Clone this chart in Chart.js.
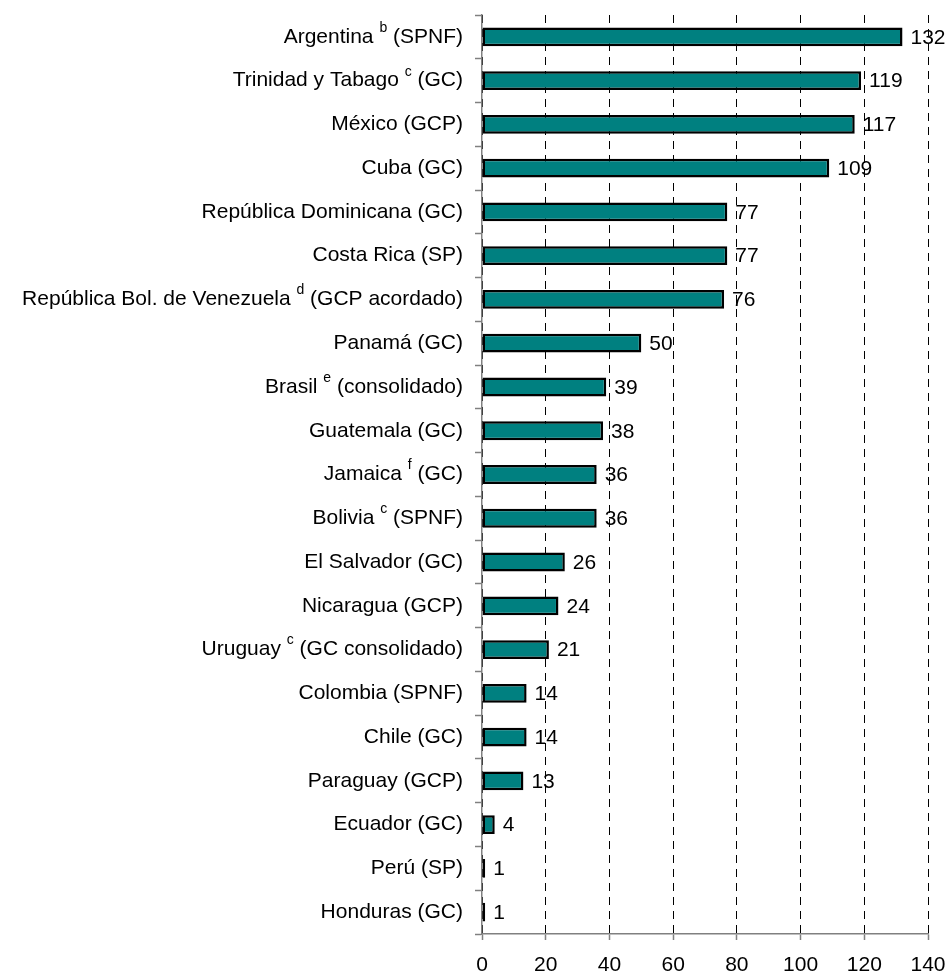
<!DOCTYPE html>
<html>
<head>
<meta charset="utf-8">
<script src="https://cdn.jsdelivr.net/npm/chart.js@4"></script>
<style>
  html, body { margin: 0; padding: 0; background: #fff; }
  #wrap { width: 948px; height: 973px; }
</style>
</head>
<body>
<div id="wrap"><canvas id="chart"></canvas></div>
<script>
// datos del gráfico
const countries = ['Argentina', 'Trinidad y Tabago', 'México', 'Cuba', 'República Dominicana', 'Costa Rica',
  'República Bol. de Venezuela', 'Panamá', 'Brasil', 'Guatemala', 'Jamaica', 'Bolivia', 'El Salvador',
  'Nicaragua', 'Uruguay', 'Colombia', 'Chile', 'Paraguay', 'Ecuador', 'Perú', 'Honduras'];
const notes = ['b', 'c', '', '', '', '', 'd', '', 'e', '', 'f', 'c', '', '', 'c', '', '', '', '', '', ''];
const coverage = ['(SPNF)', '(GC)', '(GCP)', '(GC)', '(GC)', '(SP)', '(GCP acordado)', '(GC)', '(consolidado)',
  '(GC)', '(GC)', '(SPNF)', '(GC)', '(GCP)', '(GC consolidado)', '(SPNF)', '(GC)', '(GCP)', '(GC)', '(SP)', '(GC)'];
const values = [132, 119, 117, 109, 77, 77, 76, 50, 39, 38, 36, 36, 26, 24, 21, 14, 14, 13, 4, 1, 1];
const xTicks = [0, 20, 40, 60, 80, 100, 120, 140];

const FONT = 'Liberation Sans, Arial, sans-serif';
const MAIN = '21px ' + FONT;
const SUP = '14px ' + FONT;

// etiquetas de categoría con superíndice
const sideLabels = {
  id: 'sideLabels',
  afterDraw(chart) {
    const ctx = chart.ctx;
    const y = chart.scales.y;
    ctx.save();
    ctx.fillStyle = '#000';
    ctx.textBaseline = 'middle';
    ctx.textAlign = 'right';
    countries.forEach((name, i) => {
      const py = y.getPixelForValue(i);
      let x = y.right - 19;
      ctx.font = MAIN;
      const space = ctx.measureText(' ').width;
      ctx.fillText(coverage[i], x, py);
      x -= ctx.measureText(coverage[i]).width + space;
      if (notes[i]) {
        ctx.font = SUP;
        ctx.fillText(notes[i], x, py - 9);
        x -= ctx.measureText(notes[i]).width + space;
        ctx.font = MAIN;
      }
      ctx.fillText(name, x, py);
    });
    ctx.restore();
  }
};

// valores al final de cada barra
const valueLabels = {
  id: 'valueLabels',
  afterDatasetsDraw(chart) {
    const ctx = chart.ctx;
    const meta = chart.getDatasetMeta(0);
    ctx.save();
    ctx.font = MAIN;
    ctx.fillStyle = '#000';
    ctx.textAlign = 'left';
    ctx.textBaseline = 'middle';
    meta.data.forEach((bar, i) => {
      ctx.fillText(String(values[i]), bar.x + 8, bar.y + 1);
    });
    ctx.restore();
  }
};

new Chart(document.getElementById('chart'), {
  type: 'bar',
  data: {
    labels: countries,
    datasets: [{
      data: values,
      backgroundColor: '#008080',
      borderColor: '#000',
      borderWidth: 2.5,
      borderSkipped: false,
      barPercentage: 0.43,
      categoryPercentage: 1
    }]
  },
  options: {
    indexAxis: 'y',
    responsive: true,
    maintainAspectRatio: false,
    animation: false,
    layout: { padding: { top: 15, right: 20, left: 0, bottom: 0 } },
    plugins: { legend: { display: false }, tooltip: { enabled: false } },
    scales: {
      x: {
        min: 0,
        max: 140,
        afterBuildTicks: (s) => { s.ticks = xTicks.map(v => ({ value: v })); },
        afterFit: (s) => { s.height = 39; s.paddingRight = 0; s.paddingLeft = 0; },
        ticks: { font: { family: FONT, size: 21 }, color: '#000', padding: 13, maxRotation: 0 },
        grid: { color: '#000', lineWidth: 1, tickLength: 6, tickColor: '#808080', tickWidth: 1.5 },
        border: { color: '#808080', width: 1.5, dash: [8, 6] }
      },
      y: {
        afterFit: (s) => { s.width = 482; },
        ticks: { display: false },
        grid: { offset: true, drawOnChartArea: false, tickLength: 7, tickColor: '#808080', tickWidth: 1.5 },
        border: { color: '#808080', width: 1.5 }
      }
    }
  },
  plugins: [sideLabels, valueLabels]
});
</script>
</body>
</html>
